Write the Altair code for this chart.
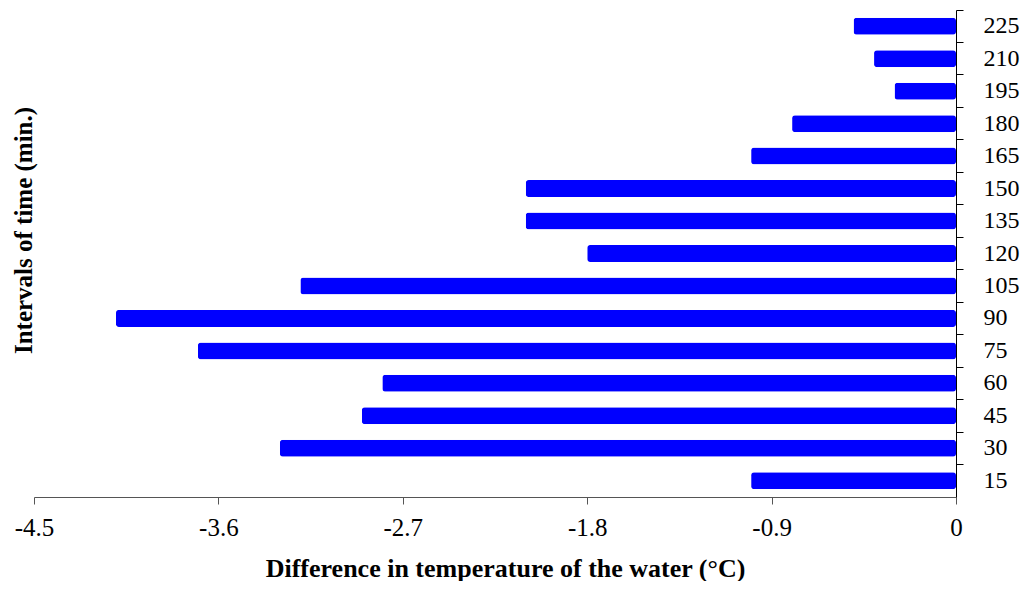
import altair as alt
import pandas as pd

times = [15, 30, 45, 60, 75, 90, 105, 120, 135, 150, 165, 180, 195, 210, 225]
diffs = [-1.0, -3.3, -2.9, -2.8, -3.7, -4.1, -3.2, -1.8, -2.1, -2.1, -1.0, -0.8, -0.3, -0.4, -0.5]
x_ticks = [-4.5, -3.6, -2.7, -1.8, -0.9, 0]

df = pd.DataFrame({"time": times, "diff": diffs})

FONT = "Liberation Serif"
W, H = 922, 487

x_enc = alt.X(
    "diff:Q",
    scale=alt.Scale(domain=[-4.5, 0], nice=False),
    axis=alt.Axis(
        values=x_ticks,
        labelExpr="toString(datum.value)",
        labelFlush=False,
        grid=False,
        tickSize=7,
        labelPadding=11,
        domainColor="#555555",
        tickColor="#555555",
        labelColor="black",
        labelFont=FONT,
        labelFontSize=25,
        title="Difference in temperature of the water (°C)",
        titleFont=FONT,
        titleFontSize=26,
        titleFontWeight="bold",
        titleColor="black",
        titleX=471,
        titleY=79,
        titleBaseline="alphabetic",
        titleAlign="center",
    ),
)

yscale = alt.Scale(paddingInner=0, paddingOuter=0)

ticks_layer = alt.Chart(df).mark_bar(color="#0000FF", size=17, cornerRadius=3).encode(
    x=x_enc,
    y=alt.Y(
        "time:O",
        sort="descending",
        scale=yscale,
        axis=alt.Axis(
            orient="right",
            labels=False,
            ticks=True,
            tickSize=7,
            tickColor="black",
            bandPosition=0,
            domain=True,
            domainColor="black",
            grid=False,
            title="Intervals of time (min.)",
            titleFont=FONT,
            titleFontSize=25,
            titleFontWeight="bold",
            titleColor="black",
            titleAngle=270,
            titleX=-933,
            titleY=220,
            titleAlign="center",
            titleBaseline="middle",
        ),
    ),
)

labels_layer = alt.Chart(df).mark_bar(opacity=0, size=17).encode(
    x=alt.X("diff:Q"),
    y=alt.Y(
        "time:O",
        sort="descending",
        scale=yscale,
        axis=alt.Axis(
            orient="right",
            labels=True,
            ticks=False,
            tickSize=0,
            domain=False,
            grid=False,
            labelPadding=27,
            labelFont=FONT,
            labelFontSize=24,
            labelColor="black",
            title=None,
        ),
    ),
)

chart = (
    alt.layer(ticks_layer, labels_layer)
    .resolve_axis(y="independent")
    .properties(
        width=W,
        height=H,
        autosize=alt.AutoSizeParams(type="none"),
        padding={"left": 26, "top": 2, "right": 64, "bottom": 84},
        background="white",
    )
    .configure_view(strokeWidth=0, stroke="transparent")
)

chart.save("out.html", embed_options={"renderer": "svg", "actions": False})
